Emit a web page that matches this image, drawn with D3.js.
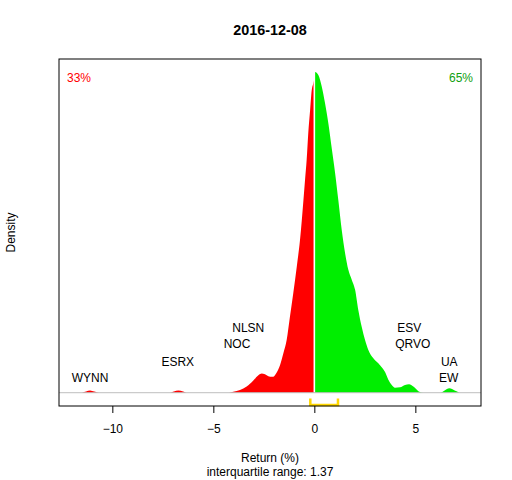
<!DOCTYPE html>
<html>
<head>
<meta charset="utf-8">
<script src="https://cdn.jsdelivr.net/npm/d3@7"></script>
<style>
  body { margin: 0; background: #fff; }
  svg text { font-family: "Liberation Sans", Arial, sans-serif; }
</style>
</head>
<body>
<div class="chart"></div>
<script>
const title = "2016-12-08";

// kernel density of returns
const densityX = [
  -11.5, -11.3, -11.1, -10.9, -10.66,
  -7.15, -6.95, -6.73, -6.5, -6.32,
  -4.22, -4.01, -3.68, -3.35, -3.02, -2.77, -2.6, -2.36, -2.19, -2.03,
  -1.87, -1.7, -1.53, -1.37, -1.21, -1.04, -0.87, -0.71, -0.54, -0.46,
  -0.38, -0.3, -0.21, -0.13, -0.05, 0,
  0.035, 0.198, 0.366, 0.53, 0.693, 0.861, 1.025, 1.188, 1.356, 1.52,
  1.683, 1.851, 2.015, 2.178, 2.347, 2.51, 2.673, 2.921, 3.252, 3.5,
  3.663, 3.832, 3.995, 4.243, 4.49, 4.688, 4.901, 5.149, 5.396,
  6.22, 6.45, 6.68, 6.95, 7.18,
];
const densityY = [
  0, 0.0015, 0.0028, 0.0015, 0,
  0, 0.0015, 0.0028, 0.0015, 0,
  0, 0.0013, 0.0035, 0.008, 0.016, 0.023, 0.025, 0.023, 0.021, 0.021,
  0.026, 0.036, 0.052, 0.069, 0.099, 0.131, 0.165, 0.2, 0.252, 0.279,
  0.305, 0.34, 0.37, 0.396, 0.405, 0.41,
  0.42, 0.416, 0.401, 0.379, 0.353, 0.32, 0.288, 0.252, 0.213, 0.183,
  0.161, 0.148, 0.135, 0.108, 0.086, 0.069, 0.056, 0.045, 0.036, 0.027,
  0.017, 0.01, 0.0065, 0.007, 0.01, 0.011, 0.008, 0.002, 0,
  0, 0.003, 0.0057, 0.003, 0,
];

// outlier tickers and where their labels sit
const tickers = ["WYNN", "ESRX", "NLSN", "NOC", "ESV", "QRVO", "UA", "EW"];
const tickerReturn = [-11.1, -6.76, -3.27, -3.83, 4.7, 4.87, 6.68, 6.65];
const tickerLevel = [0.02, 0.041, 0.085, 0.064, 0.085, 0.064, 0.041, 0.02];

const xTicks = [-10, -5, 0, 5];
const shareDown = "33%";
const shareUp = "65%";
const q1 = -0.2;
const q3 = 1.17;
const iqrLabel = "interquartile range: 1.37";

const width = 512;
const height = 480;
const plot = { left: 59, right: 481, top: 59, bottom: 406 };

const x = d3.scaleLinear().domain([-12.64, 8.25]).range([plot.left, plot.right]);
const y = d3.scaleLinear().domain([-0.0174, 0.437]).range([plot.bottom, plot.top]);

const svg = d3.select(".chart").append("svg")
  .attr("width", width)
  .attr("height", height);

const points = densityX.map((v, i) => [v, densityY[i]]);
const area = d3.area()
  .x((d) => x(d[0]))
  .y0(y(0))
  .y1((d) => y(d[1]))
  .curve(d3.curveMonotoneX);

svg.append("path")
  .datum(points.filter((d) => d[0] <= 0))
  .attr("fill", "#ff0000")
  .attr("d", area);

svg.append("path")
  .datum(points.filter((d) => d[0] >= 0))
  .attr("fill", "#00ee00")
  .attr("d", area);

// split line at zero
svg.append("line")
  .attr("x1", x(0)).attr("x2", x(0))
  .attr("y1", y(0)).attr("y2", y(0.425))
  .attr("stroke", "#fff")
  .attr("stroke-width", 1.6);

// zero line
svg.append("line")
  .attr("x1", plot.left).attr("x2", plot.right)
  .attr("y1", y(0)).attr("y2", y(0))
  .attr("stroke", "#bebebe")
  .attr("stroke-width", 1);

// IQR bracket
const bTop = y(-0.0075);
const bBot = y(-0.0162);
svg.append("path")
  .attr("d", `M${x(q1)},${bTop}V${bBot}H${x(q3)}V${bTop}`)
  .attr("fill", "none")
  .attr("stroke", "#ffd700")
  .attr("stroke-width", 2.5);

// box
svg.append("rect")
  .attr("x", plot.left).attr("y", plot.top)
  .attr("width", plot.right - plot.left)
  .attr("height", plot.bottom - plot.top)
  .attr("fill", "none")
  .attr("stroke", "#000")
  .attr("stroke-width", 1);

// x axis
const xAxis = svg.append("g")
  .attr("transform", `translate(0,${plot.bottom})`)
  .call(d3.axisBottom(x).tickValues(xTicks).tickSize(7).tickSizeOuter(0).tickPadding(11));
xAxis.select(".domain").remove();
xAxis.selectAll("line").attr("stroke", "#000");
xAxis.selectAll("text")
  .attr("font-size", 12)
  .attr("fill", "#000")
  .attr("font-family", "Liberation Sans, Arial, sans-serif");

// ticker labels
svg.append("g").selectAll("text")
  .data(tickers)
  .join("text")
  .attr("x", (d, i) => x(tickerReturn[i]))
  .attr("y", (d, i) => y(tickerLevel[i]))
  .attr("dy", "0.35em")
  .attr("text-anchor", "middle")
  .attr("font-size", 12)
  .attr("fill", "#000")
  .text((d) => d);

// shares
svg.append("text")
  .attr("x", plot.left + 8).attr("y", 82)
  .attr("font-size", 12)
  .attr("fill", "#ff0000")
  .text(shareDown);
svg.append("text")
  .attr("x", plot.right - 8).attr("y", 82)
  .attr("text-anchor", "end")
  .attr("font-size", 12)
  .attr("fill", "#10a010")
  .text(shareUp);

// titles
svg.append("text")
  .attr("x", (plot.left + plot.right) / 2).attr("y", 35)
  .attr("text-anchor", "middle")
  .attr("font-size", 14.4)
  .attr("font-weight", "bold")
  .text(title);
svg.append("text")
  .attr("x", (plot.left + plot.right) / 2).attr("y", 462)
  .attr("text-anchor", "middle")
  .attr("font-size", 12)
  .text("Return (%)");
svg.append("text")
  .attr("x", (plot.left + plot.right) / 2).attr("y", 476)
  .attr("text-anchor", "middle")
  .attr("font-size", 12)
  .text(iqrLabel);
svg.append("text")
  .attr("transform", `translate(15,${(plot.top + plot.bottom) / 2}) rotate(-90)`)
  .attr("text-anchor", "middle")
  .attr("font-size", 12)
  .text("Density");
</script>
</body>
</html>
